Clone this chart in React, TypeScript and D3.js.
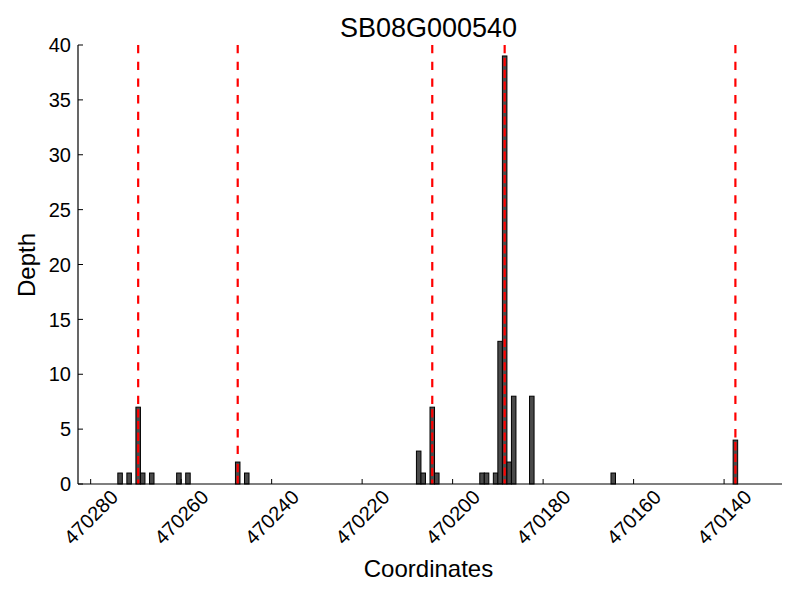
import React from "react";
import * as d3 from "d3";

const positions = [470273, 470271, 470269, 470268, 470266, 470260, 470258, 470247, 470245, 470207, 470206, 470204, 470203, 470193, 470192, 470190, 470189, 470188, 470187, 470186, 470182, 470164, 470137];
const depths = [1, 1, 7, 1, 1, 1, 1, 2, 1, 3, 1, 7, 1, 1, 1, 1, 13, 39, 2, 8, 8, 1, 4];
const boundaries = [470269, 470247, 470204, 470188, 470137];
const xTicks = [470280, 470260, 470240, 470220, 470200, 470180, 470160, 470140];
const yTicks = [0, 5, 10, 15, 20, 25, 30, 35, 40];
const xDomain = [470282.8, 470127.2];
const yDomain = [0, 40];
const title = "SB08G000540";

const W = 800, H = 600;
const L = 78, R = 782, T = 45, B = 484;
const FONT = "'Liberation Sans', Arial, Helvetica, sans-serif";

export default function App() {
  const x = d3.scaleLinear().domain(xDomain).range([L, R]);
  const y = d3.scaleLinear().domain(yDomain).range([B, T]);
  const bars = positions.map((p, i) => ({ p, d: depths[i] }));
  return (
    <svg width={W} height={H} style={{ position: "absolute", left: 0, top: 0, background: "#fff" }} fontFamily={FONT}>
      <rect x={0} y={0} width={W} height={H} fill="#fff" />
      {bars.map((b, i) => (
        <rect key={i} x={x(b.p + 1)} y={y(b.d)} width={x(b.p) - x(b.p + 1)} height={y(0) - y(b.d)}
          fill="#4a4a4a" stroke="#000" strokeWidth={1} />
      ))}
      {boundaries.map((p, i) => {
        const bi = positions.indexOf(p);
        const d = bi >= 0 ? depths[bi] : 0;
        const cx = x(p + 0.5);
        return (
          <g key={i}>
            <line x1={cx} x2={cx} y1={T} y2={y(d)} stroke="#ff0000" strokeWidth={2.2} strokeDasharray="8.3,8.4" />
            <line x1={cx} x2={cx} y1={y(d) + 2} y2={B} stroke="#ff0000" strokeWidth={2.2} strokeDasharray="8.3,3.4" />
          </g>
        );
      })}
      <line x1={L} x2={L} y1={T} y2={B} stroke="#000" strokeWidth={1.2} />
      <line x1={L} x2={R} y1={B} y2={B} stroke="#000" strokeWidth={1.2} />
      {yTicks.map((t) => (
        <g key={t}>
          <line x1={L} x2={L + 5} y1={y(t)} y2={y(t)} stroke="#000" strokeWidth={1} />
          <text x={L - 7} y={y(t)} dy="0.36em" textAnchor="end" fontSize={20}>{t}</text>
        </g>
      ))}
      {xTicks.map((t) => (
        <g key={t}>
          <line x1={x(t)} x2={x(t)} y1={B} y2={B - 5} stroke="#000" strokeWidth={1} />
          <text transform={`translate(${x(t)},517) rotate(-45)`} textAnchor="middle" dy="0.36em" fontSize={20}>{t}</text>
        </g>
      ))}
      <text x={(L + R) / 2 - 1.5} y={37.3} textAnchor="middle" fontSize={27}>{title}</text>
      <text x={(L + R) / 2 - 1.5} y={577} textAnchor="middle" fontSize={24}>Coordinates</text>
      <text transform={`translate(35,265) rotate(-90)`} textAnchor="middle" fontSize={24}>Depth</text>
    </svg>
  );
}
